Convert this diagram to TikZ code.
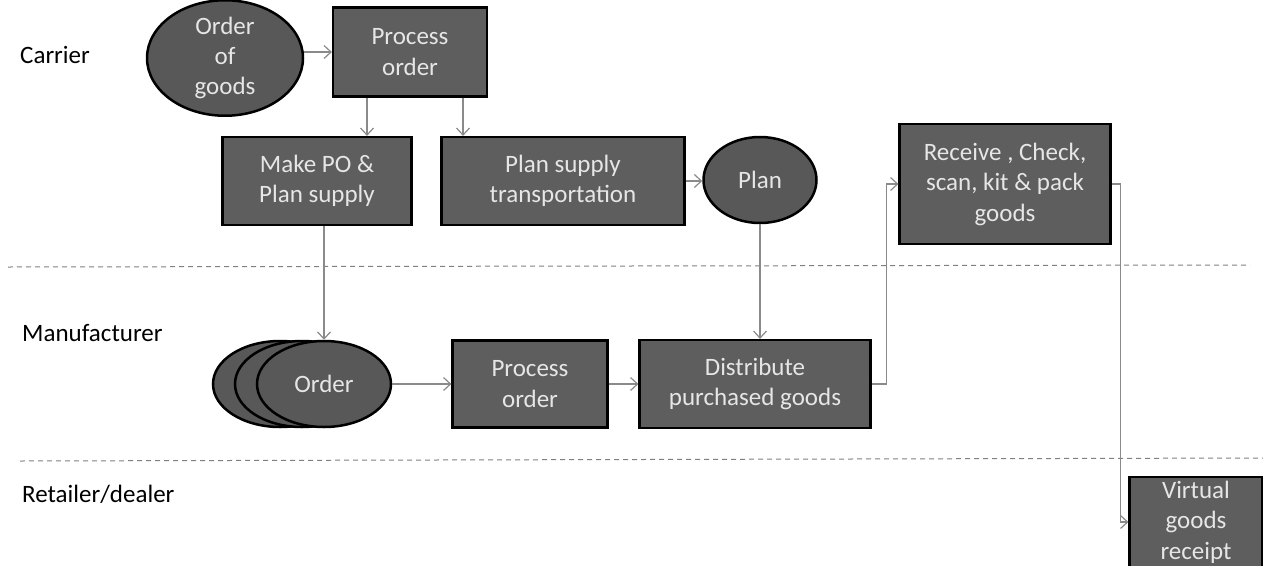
\documentclass[tikz,border=0pt]{standalone}
\usepackage{fontspec}
\setmainfont{Carlito}
\usetikzlibrary{arrows.meta,shapes.geometric}
\definecolor{boxfill}{HTML}{5E5E5E}
\definecolor{ellfill}{HTML}{585858}
\definecolor{boxtext}{HTML}{E6E6E6}
\definecolor{connc}{HTML}{8A8A8A}
\tikzset{
  boxnode/.style={draw=black, line width=2.2pt, fill=boxfill, text=boxtext, align=center,
    inner sep=0pt, font=\fontsize{25}{30.5}\selectfont},
  ellnode/.style={ellipse, draw=black, line width=2.5pt, fill=ellfill, text=boxtext, align=center,
    inner sep=0pt, font=\fontsize{25}{30}\selectfont},
  conn/.style={draw=connc, line width=1.2pt, -{Straight Barb[length=7pt,width=13pt]}},
  lanesep/.style={draw=gray, line width=1pt, dash pattern=on 5pt off 4pt},
  lanelabel/.style={anchor=west, font=\fontsize{25}{28}\selectfont, text=black, inner sep=0pt}
}
\begin{document}
\begin{tikzpicture}[x=1pt,y=-1pt]
\useasboundingbox (0,0) rectangle (1263,565);
% lane separators
\draw[lanesep] (8,267) -- (1250,265);
\draw[lanesep] (20,461) -- (1263,458);
% lane labels
\node[lanelabel] (lcar) at (20,55) {Carrier};
\node[lanelabel] (lman) at (22,333) {Manufacturer};
\node[lanelabel] (lret) at (22,494) {Retailer/dealer};
% carrier row
\node[ellnode, minimum width=156pt, minimum height=97pt] (og) at (225,58) {Order\\of\\goods};
\node[boxnode, minimum width=154pt, minimum height=89pt] (po1) at (410,52) {Process\\order};
\node[boxnode, minimum width=189pt, minimum height=88pt] (mp) at (317,181) {Make PO \&\\Plan supply};
\node[boxnode, minimum width=243pt, minimum height=88pt] (pst) at (563,181) {Plan supply\\transportation};
\node[ellnode, minimum width=113pt, minimum height=86pt] (plan) at (760,180) {Plan};
\node[boxnode, minimum width=211pt, minimum height=120pt] (rec) at (1005,184) {Receive , Check,\\scan, kit \& pack\\goods};
% manufacturer row
\node[ellnode, minimum width=134pt, minimum height=86pt] (ord1) at (280,384) {};
\node[ellnode, minimum width=134pt, minimum height=86pt] (ord2) at (302,384) {};
\node[ellnode, minimum width=134pt, minimum height=86pt] (ord3) at (324,384) {Order};
\node[boxnode, minimum width=155pt, minimum height=87pt] (pm) at (530,384) {Process\\order};
\node[boxnode, minimum width=231pt, minimum height=88pt] (dist) at (755,384) {Distribute\\purchased goods};
% retailer row
\node[boxnode, minimum width=133pt, minimum height=90pt] (vir) at (1196,522) {Virtual\\goods\\receipt};
% connectors
\draw[conn] (og.east |- po1.west) -- (po1.west);
\draw[conn] ([xshift=-43pt]po1.south) -- ([xshift=-43pt]po1.south |- mp.north);
\draw[conn] ([xshift=53pt]po1.south) -- ([xshift=53pt]po1.south |- pst.north);
\draw[conn] (pst.east) -- (pst.east -| plan.west);
\draw[conn] (mp.south -| ord3.north) -- (ord3.north);
\draw[conn] (plan.south) -- (plan.south |- dist.north);
\draw[conn] (ord3.east) -- (pm.west);
\draw[conn] (pm.east) -- (dist.west);
\draw[conn] (dist.east) -- ++(15,0) |- (rec.west);
\draw[conn] (rec.east) -- ++(9,0) |- (vir.west);
\end{tikzpicture}
\end{document}
